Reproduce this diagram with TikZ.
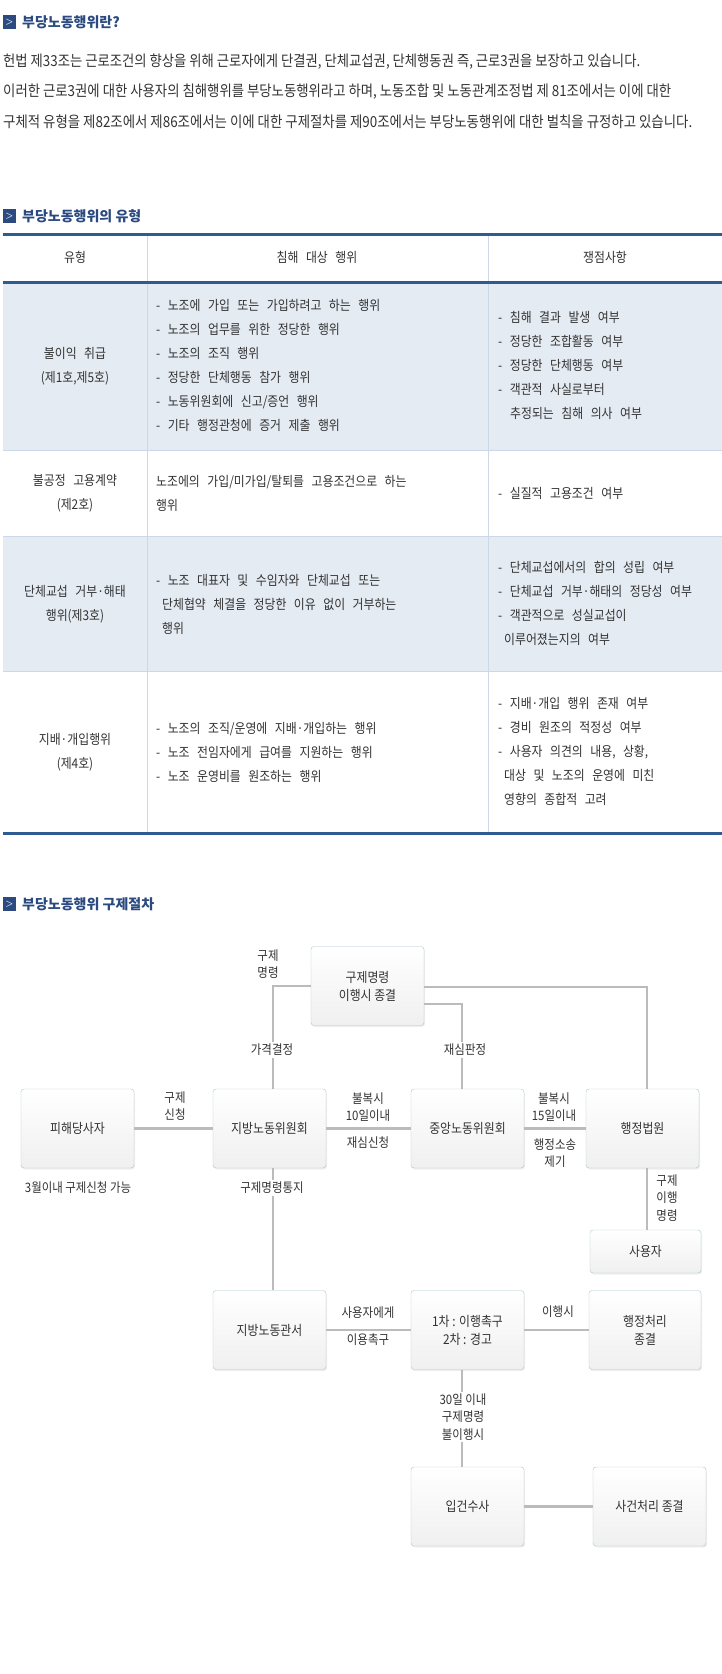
\documentclass[tikz,border=0pt]{standalone}
\usepackage{fontspec}
\usetikzlibrary{shadings,shadows}
\newfontfamily\kr{Noto Sans CJK KR}
\newfontfamily\krc[FakeStretch=0.88]{Noto Sans CJK KR}
\newfontfamily\krd[FakeStretch=0.88]{Noto Sans CJK KR}
\newcommand{\wsp}{\spaceskip=7.5pt plus 1pt\relax}
\definecolor{navy}{HTML}{2F5B93}
\definecolor{headc}{HTML}{2A4A80}
\definecolor{rowshade}{HTML}{E5EBF3}
\definecolor{grid}{HTML}{CCD8E8}
\definecolor{txt}{HTML}{333333}
\definecolor{conn}{HTML}{BBBBBB}
\definecolor{bxb}{HTML}{A8C8CE}
\tikzset{
 heading/.style={anchor=west,font=\kr\bfseries\fontsize{14}{16}\selectfont,text=headc,inner sep=0},
 para/.style={anchor=west,inner sep=0,text=txt},
 cell/.style={font=\krc\fontsize{13.5}{24}\selectfont\wsp,text=txt,inner sep=0,align=left,anchor=west},
 ccell/.style={font=\krc\fontsize{13.5}{24}\selectfont\wsp,text=txt,inner sep=0,align=center},
 fbox/.style={draw=bxb,rounded corners=3pt,top color=white,bottom color=black!6,minimum width=113pt,minimum height=79pt,font=\krd\fontsize{13.5}{18}\selectfont,text=txt,align=center,drop shadow={opacity=0.12,shadow xshift=1pt,shadow yshift=-1.5pt}},
 lab/.style={font=\krd\fontsize{13}{17.5}\selectfont,text=txt,align=center,inner sep=1pt},
 wlab/.style={lab,fill=white,inner sep=2pt},
 cn/.style={draw=conn,line width=2.2pt}
}
\newcommand{\hicon}[2]{\fill[headc] (3,#1-7) rectangle (16,#1+7);
 \node[text=white,font=\bfseries\fontsize{9}{9}\selectfont,inner sep=0] at (9.5,#1) {>};}
\begin{document}
\begin{tikzpicture}[x=1pt,y=-1pt]
\useasboundingbox[fill=white] (0,0) rectangle (722,1674);
% heading 1
\hicon{22}{}
\node[heading] (h1) at (22,22) {부당노동행위란?};
\node[para] (p1) at (3,62) {\resizebox{637pt}{!}{\krd\fontsize{13}{15}\selectfont 헌법 제33조는 근로조건의 향상을 위해 근로자에게 단결권, 단체교섭권, 단체행동권 즉, 근로3권을 보장하고 있습니다.}};
\node[para] (p2) at (3,92) {\resizebox{668pt}{!}{\krd\fontsize{13}{15}\selectfont 이러한 근로3권에 대한 사용자의 침해행위를 부당노동행위라고 하며, 노동조합 및 노동관계조정법 제 81조에서는 이에 대한}};
\node[para] (p3) at (3,122) {\resizebox{689pt}{!}{\krd\fontsize{13}{15}\selectfont 구체적 유형을 제82조에서 제86조에서는 이에 대한 구제절차를 제90조에서는 부당노동행위에 대한 벌칙을 규정하고 있습니다.}};
% heading 2
\hicon{216}{}
\node[heading] (h2) at (22,216) {부당노동행위의 유형};
% table
\fill[rowshade] (3,282) rectangle (722,450);
\fill[rowshade] (3,536) rectangle (722,671);
\draw[grid,line width=0.8pt] (147,234) -- (147,833) (488,234) -- (488,833);
\draw[grid,line width=0.8pt] (3,450) -- (722,450) (3,536) -- (722,536) (3,671) -- (722,671);
\draw[navy,line width=3pt] (3,234) -- (722,234) (3,282) -- (722,282) (3,833) -- (722,833);
\node[ccell] (t1) at (75,257) {유형};
\node[ccell] (t2) at (317,257) {침해 대상 행위};
\node[ccell] (t3) at (605,257) {쟁점사항};
% row1
\node[ccell] (r1a) at (75,366) {불이익 취급\\(제1호,제5호)};
\node[cell] (r1b) at (156,365) {- 노조에 가입 또는 가입하려고 하는 행위\\- 노조의 업무를 위한 정당한 행위\\- 노조의 조직 행위\\- 정당한 단체행동 참가 행위\\- 노동위원회에 신고/증언 행위\\- 기타 행정관청에 증거 제출 행위};
\node[cell] (r1c) at (498,365) {- 침해 결과 발생 여부\\- 정당한 조합활동 여부\\- 정당한 단체행동 여부\\- 객관적 사실로부터\\\hspace*{12pt}추정되는 침해 의사 여부};
% row2
\node[ccell] (r2a) at (75,493) {불공정 고용계약\\(제2호)};
\node[cell] (r2b) at (156,493) {노조에의 가입/미가입/탈퇴를 고용조건으로 하는\\행위};
\node[cell] (r2c) at (498,493) {- 실질적 고용조건 여부};
% row3
\node[ccell] (r3a) at (75,604) {단체교섭 거부·해태\\행위(제3호)};
\node[cell] (r3b) at (156,604) {- 노조 대표자 및 수임자와 단체교섭 또는\\\hspace*{6pt}단체협약 체결을 정당한 이유 없이 거부하는\\\hspace*{6pt}행위};
\node[cell] (r3c) at (498,603) {- 단체교섭에서의 합의 성립 여부\\- 단체교섭 거부·해태의 정당성 여부\\- 객관적으로 성실교섭이\\\hspace*{6pt}이루어졌는지의 여부};
% row4
\node[ccell] (r4a) at (75,752) {지배·개입행위\\(제4호)};
\node[cell] (r4b) at (156,752) {- 노조의 조직/운영에 지배·개입하는 행위\\- 노조 전임자에게 급여를 지원하는 행위\\- 노조 운영비를 원조하는 행위};
\node[cell] (r4c) at (498,751) {- 지배·개입 행위 존재 여부\\- 경비 원조의 적정성 여부\\- 사용자 의견의 내용, 상황,\\\hspace*{6pt}대상 및 노조의 운영에 미친\\\hspace*{6pt}영향의 종합적 고려};
% heading 3
\hicon{904}{}
\node[heading] (h3) at (22,904) {부당노동행위 구제절차};
% boxes
\node[fbox] (A) at (367.5,986) {구제명령\\이행시 종결};
\node[fbox] (vic) at (77.5,1128.5) {피해당사자};
\node[fbox] (loc) at (269.5,1128.5) {지방노동위원회};
\node[fbox] (cen) at (467.5,1128.5) {중앙노동위원회};
\node[fbox] (crt) at (642.5,1128.5) {행정법원};
\node[fbox,minimum width=111pt,minimum height=43pt] (usr) at (645.5,1251.5) {사용자};
\node[fbox] (off) at (269.5,1330) {지방노동관서};
\node[fbox] (war) at (467.5,1330) {1차 : 이행촉구\\2차 : 경고};
\node[fbox,minimum width=112pt] (adm) at (645,1330) {행정처리\\종결};
\node[fbox] (inv) at (467.5,1506.5) {입건수사};
\node[fbox] (cas) at (649.5,1506.5) {사건처리 종결};
% connectors
\draw[cn] (vic) -- (loc);
\draw[cn] (loc) -- (cen);
\draw[cn] (cen) -- (crt);
\draw[cn] ([xshift=3.5pt]loc.north) |- (A.west);
\draw[cn] ([yshift=-1pt]A.east) -| ([xshift=4.5pt]crt.north);
\draw[cn] ([yshift=-18pt]A.east) -| ([xshift=-5.5pt]cen.north);
\draw[cn] ([xshift=4.5pt]crt.south) -- ([xshift=1.5pt]usr.north);
\draw[cn] ([xshift=3.5pt]loc.south) -- ([xshift=3.5pt]off.north);
\draw[cn] (off) -- (war);
\draw[cn] (war) -- (adm);
\draw[cn] ([xshift=-5.5pt]war.south) -- ([xshift=-5.5pt]inv.north);
\draw[cn] (inv) -- (cas);
% labels
\node[lab] (l1) at (268,964) {구제\\명령};
\node[wlab] (l2) at (272,1050) {가격결정};
\node[wlab] (l3) at (465,1050) {재심판정};
\node[lab] (l4) at (175,1106) {구제\\신청};
\node[lab] (l5) at (368,1107) {불복시\\10일이내};
\node[lab] (l6) at (368,1143) {재심신청};
\node[lab] (l7) at (554,1107) {불복시\\15일이내};
\node[lab] (l8) at (555,1153) {행정소송\\제기};
\node[lab] (l9) at (667,1198) {구제\\이행\\명령};
\node[lab] (l10) at (78,1188) {3월이내 구제신청 가능};
\node[wlab] (l11) at (272,1188) {구제명령통지};
\node[lab] (l12) at (368,1313) {사용자에게};
\node[lab] (l13) at (368,1340) {이용촉구};
\node[lab] (l14) at (558,1312) {이행시};
\node[wlab] (l15) at (463,1417) {30일 이내\\구제명령\\불이행시};
\end{tikzpicture}
\end{document}
